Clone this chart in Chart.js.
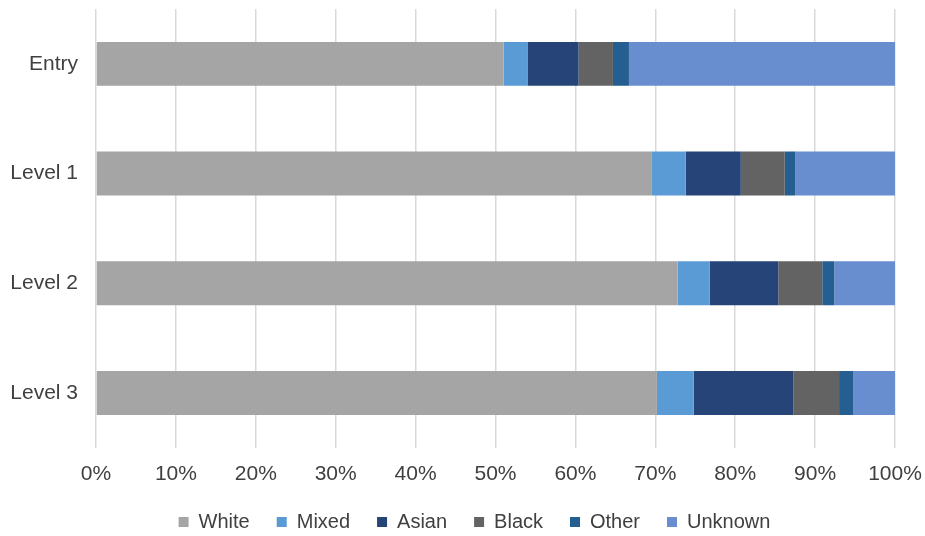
<!DOCTYPE html>
<html>
<head>
<meta charset="utf-8">
<script src="https://cdn.jsdelivr.net/npm/chart.js@4"></script>
<style>
  body { margin: 0; background: #fff; }
</style>
</head>
<body>
<canvas id="ethnicityChart" width="925" height="536"></canvas>
<script>
// Share of each ethnic group per level (percent)
const categories = ['Entry', 'Level 1', 'Level 2', 'Level 3'];
const white   = [51.0, 69.5, 72.8, 70.2];
const mixed   = [3.0, 4.3, 4.0, 4.6];
const asian   = [6.4, 6.9, 8.6, 12.5];
const black   = [4.3, 5.5, 5.5, 5.7];
const other   = [2.0, 1.3, 1.5, 1.8];
const unknown = [33.3, 12.5, 7.6, 5.2];
const xTicks  = [0, 10, 20, 30, 40, 50, 60, 70, 80, 90, 100];

const groups = [
    { label: 'White',   data: white,   color: '#A5A5A5' },
    { label: 'Mixed',   data: mixed,   color: '#5B9BD5' },
    { label: 'Asian',   data: asian,   color: '#264478' },
    { label: 'Black',   data: black,   color: '#636363' },
    { label: 'Other',   data: other,   color: '#255E91' },
    { label: 'Unknown', data: unknown, color: '#698ED0' }
];

const family = "'Liberation Sans', Arial, sans-serif";
const tickFont = { family: family, size: 21 };
const legendFont = { family: family, size: 20 };
const textColor = '#404040';

// nudge the legend so it sits under the plot rather than the whole canvas
const legendShift = {
    id: 'legendShift',
    afterLayout(chart) {
        chart.legend.left += 12;
        chart.legend.right += 12;
    }
};

const config = {
    type: 'bar',
    data: {
        labels: categories,
        datasets: groups.map(g => ({
            label: g.label,
            data: g.data,
            backgroundColor: g.color,
            borderWidth: 0,
            barPercentage: 0.4,
            categoryPercentage: 1.0
        }))
    },
    options: {
        indexAxis: 'y',
        responsive: false,
        animation: false,
        layout: { padding: { left: 0, right: 0, top: 9, bottom: -6 } },
        scales: {
            x: {
                stacked: true,
                min: 0,
                max: 100,
                afterBuildTicks: scale => {
                    scale.ticks = xTicks.map(v => ({ value: v }));
                },
                afterFit: scale => {
                    scale.paddingRight = 30;
                    scale.height -= 16;
                },
                ticks: {
                    font: tickFont,
                    color: textColor,
                    padding: 14,
                    callback: v => v + '%'
                },
                grid: { color: '#D9D9D9', lineWidth: 1.5, drawTicks: false },
                border: { display: false }
            },
            y: {
                stacked: true,
                afterFit: scale => {
                    scale.width = 96;
                    scale.paddingTop = 0;
                    scale.paddingBottom = 0;
                },
                ticks: { font: tickFont, color: textColor, padding: 18 },
                grid: { display: false, drawTicks: false },
                border: { display: false }
            }
        },
        plugins: {
            legend: {
                position: 'bottom',
                labels: {
                    font: legendFont,
                    color: textColor,
                    boxWidth: 10,
                    boxHeight: 10,
                    padding: 27
                }
            },
            tooltip: { enabled: true }
        }
    },
    plugins: [legendShift]
};

window.onload = function() {
    const ctx = document.getElementById('ethnicityChart').getContext('2d');
    new Chart(ctx, config);
};
</script>
</body>
</html>
